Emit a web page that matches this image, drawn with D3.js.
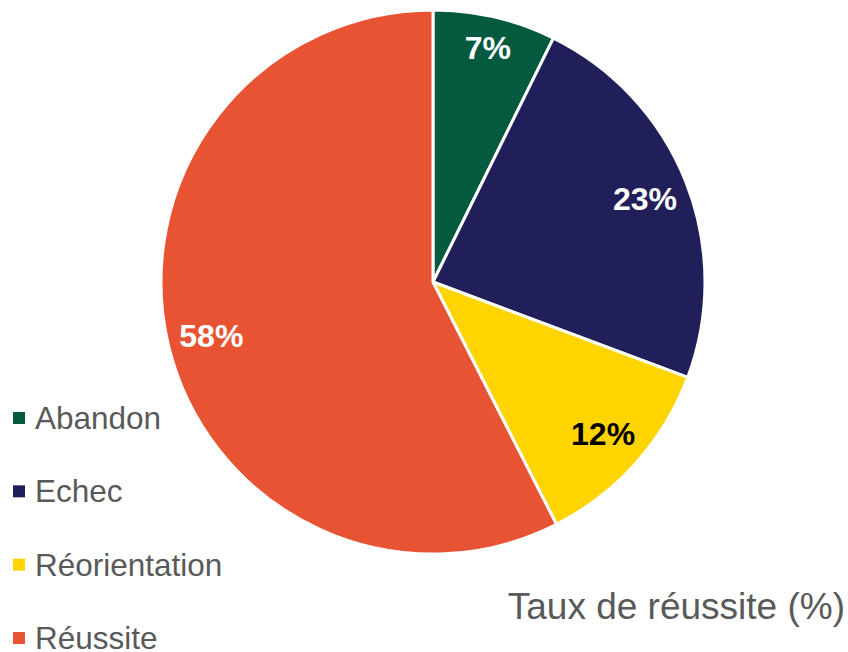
<!DOCTYPE html>
<html>
<head>
<meta charset="utf-8">
<script src="https://cdn.jsdelivr.net/npm/d3@7"></script>
<style>
  body { margin: 0; background: #fff; }
  text { font-family: "Liberation Sans", Arial, sans-serif; }
</style>
</head>
<body>
<svg id="chart" width="848" height="652"></svg>
<script>
const categories = ['Abandon', 'Echec', 'Réorientation', 'Réussite'];
const values = [7.3, 23.4, 11.8, 57.5];
const labels = ['7%', '23%', '12%', '58%'];
const colors = ['#035A3E', '#211F5A', '#FFD400', '#E85433'];
const labelColors = ['#fff', '#fff', '#000', '#fff'];
const title = 'Taux de réussite (%)';

const svg = d3.select('#chart');
const cx = 433, cy = 282, r = 272;

const data = categories.map((c, i) => ({ name: c, value: values[i], label: labels[i], color: colors[i], lc: labelColors[i] }));

const pie = d3.pie().sort(null).value(d => d.value);
const arc = d3.arc().innerRadius(0).outerRadius(r);
// small slices get their label pushed a bit further out
const labelR = d => (d.endAngle - d.startAngle < 0.6 ? 241 : 228);

let g = svg.append('g').attr('transform', `translate(${cx} ${cy})`);

g.selectAll('path.slice')
    .data(pie(data))
    .enter()
    .append('path')
    .classed('slice', true)
    .attr('d', arc)
    .attr('fill', d => d.data.color)
    .attr('stroke', '#fff')
    .attr('stroke-width', 3)
    .attr('stroke-linejoin', 'round');

g.selectAll('text.pct')
    .data(pie(data))
    .enter()
    .append('text')
    .classed('pct', true)
    .attr('transform', d => `translate(${d3.arc().innerRadius(labelR(d)).outerRadius(labelR(d)).centroid(d)})`)
    .attr('text-anchor', 'middle')
    .attr('dy', '0.36em')
    .style('font-size', '32px')
    .style('font-weight', 'bold')
    .attr('fill', d => d.data.lc)
    .text(d => d.data.label);

// legend
const legendY = d3.scalePoint().domain(categories).range([418, 638]);

let lg = svg.selectAll('g.legend')
    .data(data)
    .enter()
    .append('g')
    .classed('legend', true)
    .attr('transform', d => `translate(13 ${legendY(d.name)})`);

lg.append('rect')
    .attr('x', 0)
    .attr('y', -6)
    .attr('width', 12)
    .attr('height', 12)
    .attr('fill', d => d.color);

lg.append('text')
    .attr('x', 22)
    .attr('dy', '0.35em')
    .style('font-size', '31.5px')
    .attr('fill', '#595959')
    .text(d => d.name);

svg.append('text')
    .attr('x', 845)
    .attr('y', 619)
    .attr('text-anchor', 'end')
    .style('font-size', '37px')
    .attr('fill', '#595959')
    .text(title);
</script>
</body>
</html>
